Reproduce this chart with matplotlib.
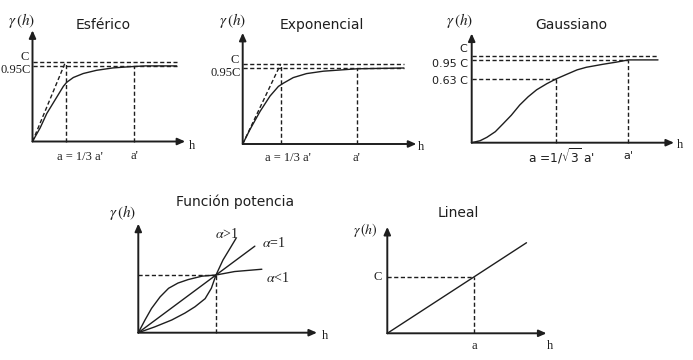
import matplotlib.pyplot as plt

W, H = 693, 360
INK = '#1e1e1e'
SERIF = 'Liberation Serif'
SANS = 'DejaVu Sans'

# ---- data (h in units of a, gamma in units of C) ----
# Esférico
esf_h = [0, 0.23, 0.43, 0.68, 0.93, 1.03, 1.23, 1.53, 1.93, 2.43, 2.94, 3.4, 4.34]
esf_g = [0, 0.17, 0.35, 0.52, 0.69, 0.74, 0.80, 0.85, 0.89, 0.92, 0.935, 0.945, 0.945]
esf_a, esf_ap, esf_end = 1.0, 3.06, 4.34
esf_sill, esf_95 = 1.0, 0.945

# Exponencial
exp_h = [0, 0.19, 0.46, 0.72, 0.94, 1.07, 1.33, 1.68, 2.12, 2.56, 3.0, 4.24]
exp_g = [0, 0.18, 0.41, 0.60, 0.72, 0.76, 0.83, 0.88, 0.91, 0.925, 0.94, 0.95]
exp_a, exp_ap, exp_end = 1.0, 3.0, 4.24
exp_sill, exp_95 = 1.0, 0.95

# Gaussiano
gau_h = [0, 0.10, 0.18, 0.28, 0.37, 0.47, 0.57, 0.67, 0.77, 0.89, 1.0,
         1.13, 1.25, 1.36, 1.56, 1.72, 1.86, 2.21]
gau_g = [0, 0.023, 0.062, 0.127, 0.216, 0.317, 0.435, 0.53, 0.61, 0.68, 0.735,
         0.79, 0.84, 0.87, 0.905, 0.93, 0.955, 0.955]
gau_a, gau_ap, gau_end = 1.0, 1.86, 2.21
gau_sill, gau_95, gau_63 = 1.0, 0.955, 0.735

# Función potencia
pot_hi_h = [0, 0.21, 0.43, 0.60, 0.73, 0.86, 0.94, 1.0, 1.09, 1.18, 1.26]
pot_hi_g = [0, 0.10, 0.22, 0.34, 0.45, 0.59, 0.77, 1.0, 1.26, 1.46, 1.64]
pot_eq_h = [0, 1.0, 1.50]
pot_eq_g = [0, 1.0, 1.50]
pot_lo_h = [0, 0.086, 0.17, 0.28, 0.39, 0.51, 0.64, 0.82, 1.0, 1.24, 1.59]
pot_lo_g = [0, 0.22, 0.42, 0.62, 0.77, 0.86, 0.92, 0.98, 1.0, 1.06, 1.10]

# Lineal
lin_h = [0, 1.0, 1.60]
lin_g = [0, 1.0, 1.60]
lin_a = 1.0


fig = plt.figure(figsize=(W / 100, H / 100), dpi=100)


def panel(ox, oy, sx, sy, xend, yend):
    # transparent full-figure axes whose origin sits at pixel (ox, oy)
    ax = fig.add_axes([0, 0, 1, 1])
    ax.set_xlim(-ox / sx, (W - ox) / sx)
    ax.set_ylim(-(H - oy) / sy, oy / sy)
    ax.axis('off')
    arrow = dict(arrowstyle='-|>,head_length=0.45,head_width=0.2', lw=1.4,
                 color=INK, shrinkA=0, shrinkB=0)
    ax.annotate('', xy=(xend, 0), xytext=(0, 0), arrowprops=arrow)
    ax.annotate('', xy=(0, yend), xytext=(0, 0), arrowprops=arrow)
    return ax


def dash(ax, xs, ys):
    ax.plot(xs, ys, color=INK, lw=1.0, ls=(0, (3, 1.8)))


def curve(ax, xs, ys):
    ax.plot(xs, ys, color=INK, lw=1.0, solid_capstyle='round',
            solid_joinstyle='round')


def ptext(x, y, s, **kw):
    # text placed by pixel position
    fig.text(x / W, 1 - y / H, s, ha='center', va='center', color=INK, **kw)


def gamma_label(x, y, size=11):
    ptext(x, y, r'$\gamma\,(h)$', fontsize=size, math_fontfamily='stix')


serif = dict(family=SERIF, fontsize=9, color=INK)
sans = dict(family=SANS, fontsize=8, color=INK)

# ---------------- Esférico ----------------
ax = panel(32.5, 141.5, 33.2, 80, 4.6, 1.39)
dash(ax, [0, esf_end], [esf_sill, esf_sill])
dash(ax, [0, esf_end], [esf_95, esf_95])
dash(ax, [0, esf_a], [0, esf_sill])
dash(ax, [esf_a, esf_a], [0, esf_sill])
dash(ax, [esf_ap, esf_ap], [0, esf_95])
curve(ax, esf_h, esf_g)
ax.text(-0.1, 1.05, 'C', ha='right', va='center', **serif)
ax.text(-0.04, 0.89, '0.95C', ha='right', va='center', **serif)
ax.text(1.42, -0.19, "a = 1/3 a'", ha='center', va='center', **serif)
ax.text(esf_ap, -0.18, "a'", ha='center', va='center', **serif)
ax.text(4.8, -0.06, 'h', ha='center', va='center', **serif)
ptext(103, 25, 'Esférico', family=SANS, fontsize=10)
gamma_label(21.7, 20)

# ---------------- Exponencial ----------------
ax = panel(242.7, 144, 38, 80, 4.57, 1.39)
dash(ax, [0, exp_end], [exp_sill, exp_sill])
dash(ax, [0, exp_end], [exp_95, exp_95])
dash(ax, [0, exp_a], [0, exp_sill])
dash(ax, [exp_a, exp_a], [0, exp_sill])
dash(ax, [exp_ap, exp_ap], [0, exp_95])
curve(ax, exp_h, exp_g)
ax.text(-0.1, 1.05, 'C', ha='right', va='center', **serif)
ax.text(-0.06, 0.89, '0.95C', ha='right', va='center', **serif)
ax.text(1.2, -0.17, "a = 1/3 a'", ha='center', va='center', **serif)
ax.text(exp_ap, -0.17, "a'", ha='center', va='center', **serif)
ax.text(4.7, -0.04, 'h', ha='center', va='center', **serif)
ptext(321.7, 25, 'Exponencial', family=SANS, fontsize=10)
gamma_label(233, 20)

# ---------------- Gaussiano ----------------
ax = panel(471.7, 142.7, 84.3, 86.7, 2.40, 1.26)
dash(ax, [0, gau_end], [gau_sill, gau_sill])
dash(ax, [0, gau_ap], [gau_95, gau_95])
dash(ax, [0, gau_a], [gau_63, gau_63])
dash(ax, [gau_a, gau_a], [0, gau_63])
dash(ax, [gau_ap, gau_ap], [0, gau_95])
curve(ax, gau_h, gau_g)
ax.text(-0.05, 1.08, 'C', ha='right', va='center', **sans)
ax.text(-0.04, 0.91, '0.95 C', ha='right', va='center', **sans)
ax.text(-0.04, 0.71, '0.63 C', ha='right', va='center', **sans)
ax.text(1.07, -0.16, r"a =1/$\sqrt{3}$ a'", ha='center', va='center',
        math_fontfamily='dejavusans', family=SANS, fontsize=8.8, color=INK)
ax.text(gau_ap, -0.15, "a'", ha='center', va='center', **sans)
ax.text(2.47, -0.03, 'h', ha='center', va='center', **serif)
ptext(571.7, 25, 'Gaussiano', family=SANS, fontsize=10)
gamma_label(460, 20)

# ---------------- Función potencia ----------------
ax = panel(138.3, 332.7, 77.7, 57.7, 2.30, 1.89)
dash(ax, [0, 1], [1, 1])
dash(ax, [1, 1], [0, 1])
curve(ax, pot_hi_h, pot_hi_g)
curve(ax, pot_eq_h, pot_eq_g)
curve(ax, pot_lo_h, pot_lo_g)
alpha = dict(family=SERIF, fontsize=10, color=INK, math_fontfamily='stix',
             ha='center', va='center')
ax.text(1.14, 1.71, r'$\alpha$>1', **alpha)
ax.text(1.75, 1.55, r'$\alpha$=1', **alpha)
ax.text(1.79, 0.94, r'$\alpha$<1', **alpha)
ax.text(2.40, -0.06, 'h', ha='center', va='center', **serif)
ptext(235, 201.7, 'Función potencia', family=SANS, fontsize=10)
gamma_label(123, 213)

# ---------------- Lineal ----------------
ax = panel(387.3, 333.3, 87, 56.6, 1.83, 1.88)
dash(ax, [0, lin_a], [1, 1])
dash(ax, [lin_a, lin_a], [0, 1])
curve(ax, lin_h, lin_g)
ax.text(-0.06, 1.0, 'C', ha='right', va='center', **serif)
ax.text(lin_a, -0.22, 'a', ha='center', va='center', **serif)
ax.text(1.87, -0.22, 'h', ha='center', va='center', **serif)
ptext(458, 213, 'Lineal', family=SANS, fontsize=10)
gamma_label(365, 230, size=10)

fig.savefig('out.png', dpi=100)
